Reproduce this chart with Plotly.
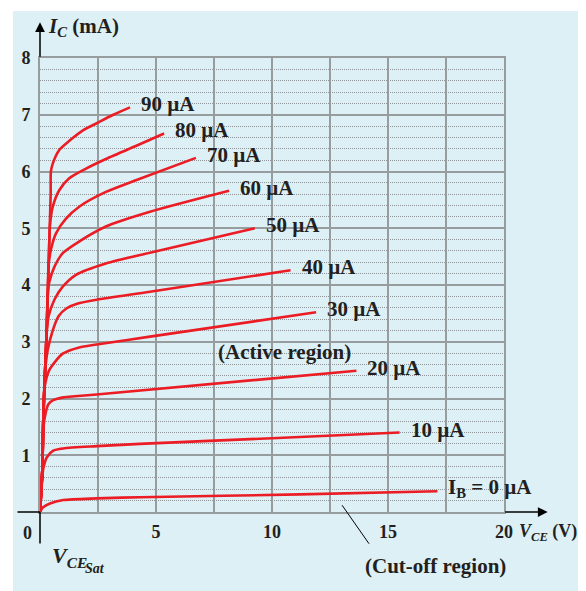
import plotly.graph_objects as go

# ---------------- data ----------------
ib_labels = ["I<sub>B</sub> = 0 µA", "10 µA", "20 µA", "30 µA", "40 µA",
             "50 µA", "60 µA", "70 µA", "80 µA", "90 µA"]

vce_0 = [0, 0.12, 0.43, 1.0, 2.44, 4.3, 11.2, 17.13]
ic_0 = [0, 0.08, 0.15, 0.21, 0.24, 0.26, 0.31, 0.365]

vce_10 = [0, 0.08, 0.14, 0.29, 0.57, 1.0, 2.44, 4.3, 10.0, 15.5]
ic_10 = [0, 0.5, 0.76, 0.96, 1.08, 1.12, 1.16, 1.20, 1.30, 1.40]

vce_20 = [0, 0.1, 0.15, 0.25, 0.36, 0.57, 1.0, 1.5, 2.44, 13.64]
ic_20 = [0, 0.74, 1.5, 1.76, 1.9, 1.97, 2.02, 2.04, 2.07, 2.49]

vce_30 = [0, 0.1, 0.14, 0.2, 0.4, 0.98, 1.69, 2.44, 4.74, 11.9]
ic_30 = [0, 0.74, 1.6, 2.2, 2.5, 2.79, 2.9, 2.95, 3.09, 3.52]

vce_40 = [0, 0.1, 0.14, 0.21, 0.26, 0.33, 0.55, 0.8, 1.15, 1.6, 2.44, 4.74, 10.8]
ic_40 = [0, 0.74, 1.6, 2.4, 2.65, 2.85, 3.2, 3.45, 3.59, 3.67, 3.74, 3.88, 4.26]

vce_50 = [0, 0.1, 0.14, 0.21, 0.28, 0.32, 0.37, 0.62, 0.98, 1.55, 2.84, 4.74, 9.26]
ic_50 = [0, 0.74, 1.6, 2.4, 3.1, 3.3, 3.45, 3.74, 3.97, 4.18, 4.38, 4.57, 5.0]

vce_60 = [0, 0.1, 0.14, 0.21, 0.28, 0.34, 0.40, 0.62, 0.98, 1.55, 2.84, 4.74, 8.15]
ic_60 = [0, 0.74, 1.6, 2.4, 3.1, 3.9, 4.05, 4.32, 4.56, 4.73, 5.03, 5.29, 5.66]

vce_70 = [0, 0.1, 0.14, 0.21, 0.28, 0.34, 0.37, 0.47, 0.69, 1.12, 1.69, 2.84, 4.16, 6.72]
ic_70 = [0, 0.74, 1.6, 2.4, 3.1, 3.9, 4.35, 4.62, 4.91, 5.17, 5.38, 5.64, 5.85, 6.24]

vce_80 = [0, 0.1, 0.14, 0.21, 0.28, 0.34, 0.41, 0.44, 0.55, 0.83, 1.26, 1.98, 2.84, 4.3, 5.35]
ic_80 = [0, 0.74, 1.6, 2.4, 3.1, 3.9, 4.9, 5.1, 5.38, 5.67, 5.88, 6.05, 6.22, 6.48, 6.67]

vce_90 = [0, 0.1, 0.14, 0.21, 0.28, 0.34, 0.41, 0.46, 0.47, 0.55, 0.83, 1.29, 1.87, 2.44, 3.16, 3.88]
ic_90 = [0, 0.74, 1.6, 2.4, 3.1, 3.9, 4.9, 5.6, 6.0, 6.14, 6.38, 6.55, 6.73, 6.85, 7.0, 7.13]

x_tick_vals = [0, 2.5, 5, 7.5, 10, 12.5, 15, 17.5, 20]
x_tick_text = ["", "", "5", "", "10", "", "15", "", "20"]
y_tick_vals = [0, 1, 2, 3, 4, 5, 6, 7, 8]
y_tick_text = ["", "1", "2", "3", "4", "5", "6", "7", "8"]

curves_v = [vce_0, vce_10, vce_20, vce_30, vce_40, vce_50, vce_60, vce_70, vce_80, vce_90]
curves_i = [ic_0, ic_10, ic_20, ic_30, ic_40, ic_50, ic_60, ic_70, ic_80, ic_90]

X_MAX, Y_MAX = 20, 8

# ---------------- styling ----------------
RED = "#ec1c24"
BG = "#dcf0f6"
GRID = "#979c9f"
FONT = "Liberation Serif"
TXT = "#231f20"


def px(v):
    return v / X_MAX


def py(i):
    return i / Y_MAX


fig = go.Figure()
for v, i in zip(curves_v, curves_i):
    fig.add_trace(go.Scatter(x=v, y=i, mode="lines",
                             line=dict(color=RED, width=2.6, shape="spline", smoothing=0.7),
                             hoverinfo="skip", showlegend=False))

annotations = []
# curve labels next to curve ends
for v, i, lab in zip(curves_v, curves_i, ib_labels):
    annotations.append(dict(x=px(v[-1]), y=py(i[-1]), xref="paper", yref="paper",
                            text="<b>" + lab + "</b>",
                            showarrow=False, xanchor="left", yanchor="middle",
                            xshift=9, yshift=3,
                            font=dict(family=FONT, size=21, color=TXT)))

# axis arrows (outside parts of axes in black)
annotations += [
    dict(x=1.094, y=0, xref="paper", yref="paper", ax=-44, ay=0, text="", showarrow=True,
         arrowhead=2, arrowsize=1.3, arrowwidth=1.5, arrowcolor="black"),
    dict(x=0, y=0, xref="paper", yref="paper", ax=-24, ay=0, text="", showarrow=True,
         arrowhead=0, arrowwidth=1.5, arrowcolor="black"),
    dict(x=0, y=1.079, xref="paper", yref="paper", ax=0, ay=36, text="", showarrow=True,
         arrowhead=2, arrowsize=1.3, arrowwidth=1.5, arrowcolor="black"),
    dict(x=0, y=0, xref="paper", yref="paper", ax=0, ay=33, text="", showarrow=True,
         arrowhead=0, arrowwidth=1.5, arrowcolor="black"),
    # leader to cut-off region
    dict(x=px(13.02), y=py(0.12), xref="paper", yref="paper", ax=28, ay=40, text="",
         showarrow=True, arrowhead=0, arrowwidth=1, arrowcolor="black"),
]

# texts
annotations += [
    dict(x=px(0.26), y=py(8.55), xref="paper", yref="paper", xanchor="left", yanchor="middle",
         showarrow=False, text="<b><i>I</i><sub><i>C</i></sub> (mA)</b>",
         font=dict(family=FONT, size=21, color=TXT)),
    dict(x=px(20.58), y=py(-0.37), xref="paper", yref="paper", xanchor="left", yanchor="middle",
         showarrow=False, text="<b><i>V</i><sub><i>CE</i></sub> (V)</b>",
         font=dict(family=FONT, size=18, color=TXT)),
    dict(x=px(0.43), y=py(-0.8), xref="paper", yref="paper", xanchor="left", yanchor="middle",
         showarrow=False, text="<b><i>V</i><sub><i>CE</i></sub></b>",
         font=dict(family=FONT, size=22, color=TXT)),
    dict(x=px(1.85), y=py(-1.0), xref="paper", yref="paper", xanchor="left", yanchor="middle",
         showarrow=False, text="<b><i>Sat</i></b>",
         font=dict(family=FONT, size=14, color=TXT)),
    dict(x=px(-0.56), y=py(-0.37), xref="paper", yref="paper", xanchor="center", yanchor="middle",
         showarrow=False, text="<b>0</b>", font=dict(family=FONT, size=18, color=TXT)),
    dict(x=px(10.53), y=py(2.825), xref="paper", yref="paper", xanchor="center", yanchor="middle",
         showarrow=False, text="<b>(Active region)</b>",
         font=dict(family=FONT, size=21, color=TXT)),
    dict(x=px(17.04), y=py(-0.944), xref="paper", yref="paper", xanchor="center", yanchor="middle",
         showarrow=False, text="<b>(Cut-off region)</b>",
         font=dict(family=FONT, size=21, color=TXT)),
]

fig.update_layout(
    width=578, height=583,
    margin=dict(l=32, r=82, t=50, b=79),
    paper_bgcolor="white",
    plot_bgcolor="rgba(0,0,0,0)",
    annotations=annotations,
    shapes=[dict(type="rect", xref="paper", yref="paper",
                 x0=-0.0582, x1=1.2, y0=-0.2, y1=1.1035,
                 fillcolor=BG, line=dict(width=0), layer="below")],
)

fig.update_xaxes(range=[0, X_MAX], tickvals=x_tick_vals, ticktext=x_tick_text,
                 showgrid=True, gridcolor=GRID, gridwidth=1.6,
                 showline=True, mirror=True, linecolor=GRID, linewidth=1.6,
                 zeroline=False, ticks="", ticklabelstandoff=3,
                 tickfont=dict(family=FONT, size=18, color=TXT, weight="bold"))
fig.update_yaxes(range=[0, Y_MAX], tickvals=y_tick_vals, ticktext=y_tick_text,
                 showgrid=True, gridcolor=GRID, gridwidth=1.6,
                 showline=True, mirror=True, linecolor=GRID, linewidth=1.6,
                 zeroline=False, ticks="", ticklabelstandoff=4,
                 minor=dict(dtick=0.2, showgrid=True, gridcolor="#8f9598",
                            griddash="1px,1px", gridwidth=1),
                 tickfont=dict(family=FONT, size=18, color=TXT, weight="bold"))

fig.write_html("out.html")
